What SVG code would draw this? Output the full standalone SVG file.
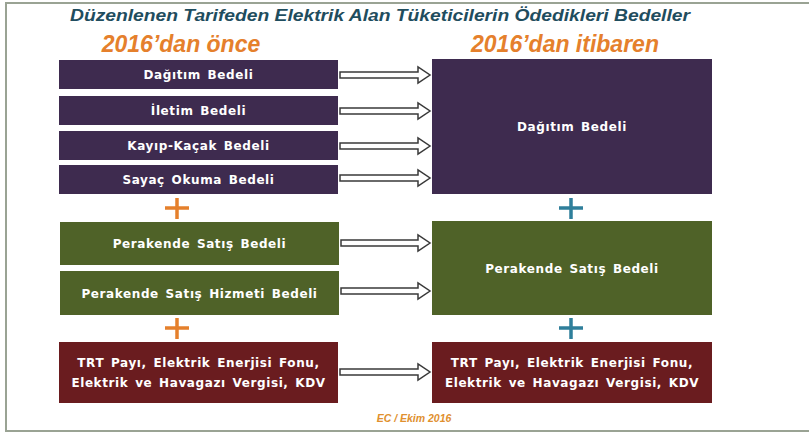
<svg xmlns="http://www.w3.org/2000/svg" width="809" height="436" viewBox="0 0 809 436">
<style>
.bg{fill:#ffffff}
.frame{fill:#ffffff;stroke:#9aa394;stroke-width:2}
.title{font-family:"Liberation Sans",Arial,sans-serif;font-weight:bold;font-style:italic;font-size:16px;fill:#1f4d5e}
.head{font-family:"Liberation Sans",Arial,sans-serif;font-weight:bold;font-style:italic;font-size:23px;fill:#e5802c}
.foot{font-family:"Liberation Sans",Arial,sans-serif;font-weight:bold;font-style:italic;font-size:10.5px;fill:#e0902e}
.lbl{font-family:"DejaVu Sans",Verdana,sans-serif;font-weight:bold;font-size:12px;letter-spacing:0.6px;word-spacing:2px;fill:#ffffff;text-anchor:middle}
.pur{fill:#3e2b4f}
.grn{fill:#4f6228}
.red{fill:#6a1c1f}
.arr{fill:#ffffff;stroke:#3a3a3a;stroke-width:1.5;stroke-linejoin:miter}
.plo{stroke:#e5802c;stroke-width:3.5;fill:none}
.plb{stroke:#2f7f9b;stroke-width:3.5;fill:none}
</style>
<rect class="bg" x="0" y="0" width="809" height="436"/>
<rect class="frame" x="6" y="3" width="830" height="428"/>
<text class="title" x="70" y="21" textLength="620" lengthAdjust="spacingAndGlyphs">Düzenlenen Tarifeden Elektrik Alan Tüketicilerin Ödedikleri Bedeller</text>
<text class="head" x="181" y="52" text-anchor="middle">2016’dan önce</text>
<text class="head" x="565" y="52" text-anchor="middle">2016’dan itibaren</text>

<g id="l1"><rect class="pur" x="59" y="60" width="279" height="29"/><text class="lbl" x="198.5" y="79">Dağıtım Bedeli</text></g>
<g id="l2"><rect class="pur" x="59" y="96" width="279" height="29"/><text class="lbl" x="198.5" y="115">İletim Bedeli</text></g>
<g id="l3"><rect class="pur" x="59" y="131" width="279" height="29"/><text class="lbl" x="198.5" y="150">Kayıp-Kaçak Bedeli</text></g>
<g id="l4"><rect class="pur" x="59" y="165" width="279" height="29"/><text class="lbl" x="198.5" y="184">Sayaç Okuma Bedeli</text></g>
<g id="r1"><rect class="pur" x="432" y="59" width="280" height="135"/><text class="lbl" x="572" y="131">Dağıtım Bedeli</text></g>

<g id="l5"><rect class="grn" x="60" y="222" width="279" height="43"/><text class="lbl" x="199.5" y="248">Perakende Satış Bedeli</text></g>
<g id="l6"><rect class="grn" x="60" y="271" width="279" height="44"/><text class="lbl" x="199.5" y="297.5">Perakende Satış Hizmeti Bedeli</text></g>
<g id="r2"><rect class="grn" x="432" y="221" width="280" height="94"/><text class="lbl" x="572" y="272.5">Perakende Satış Bedeli</text></g>

<g id="l7"><rect class="red" x="59" y="342" width="279" height="61"/><text class="lbl" x="198.5" y="367">TRT Payı, Elektrik Enerjisi Fonu,</text><text class="lbl" x="198.5" y="386.5">Elektrik ve Havagazı Vergisi, KDV</text></g>
<g id="r3"><rect class="red" x="432" y="342" width="280" height="61"/><text class="lbl" x="572" y="367">TRT Payı, Elektrik Enerjisi Fonu,</text><text class="lbl" x="572" y="386.5">Elektrik ve Havagazı Vergisi, KDV</text></g>

<g id="plus">
<path class="plo" d="M165,208 H189 M177,198 V219"/>
<path class="plb" d="M559,208 H583 M571,198 V219"/>
<path class="plo" d="M165,328 H189 M177,318 V339"/>
<path class="plb" d="M559,328 H583 M571,318 V339"/>
</g>

<g id="connectors">
<path class="arr" d="M340,72 H418 V67 L430,75 L418,83 V78 H340 Z"/>
<path class="arr" d="M340,108 H418 V103 L430,111 L418,119 V114 H340 Z"/>
<path class="arr" d="M340,143 H418 V138 L430,146 L418,154 V149 H340 Z"/>
<path class="arr" d="M340,175 H418 V170 L430,178 L418,186 V181 H340 Z"/>
<path class="arr" d="M341,240 H418 V235 L430,243 L418,251 V246 H341 Z"/>
<path class="arr" d="M341,288 H418 V283 L430,291 L418,299 V294 H341 Z"/>
<path class="arr" d="M340,369 H418 V364 L430,372 L418,380 V375 H340 Z"/>
</g>

<text class="foot" x="414" y="422" text-anchor="middle">EC / Ekim 2016</text>
</svg>
